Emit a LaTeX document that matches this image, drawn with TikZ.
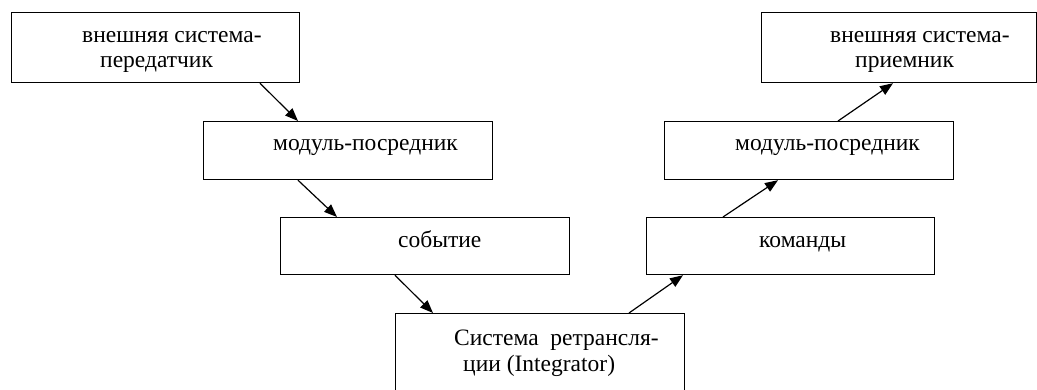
\documentclass[tikz,border=0pt]{standalone}
\usepackage{fontspec}
\setmainfont{Liberation Serif}
\usetikzlibrary{arrows.meta}
\begin{document}
\begin{tikzpicture}[x=1pt,y=-1pt,
  box/.style={draw=black,line width=1.2pt,anchor=north west,inner sep=0pt,minimum width=#1},
  txt/.style={anchor=mid west,inner sep=0pt,yshift=-3pt,font=\fontsize{23.5}{28}\selectfont},
  arr/.style={draw=black,line width=1.2pt,-{Triangle[length=13pt,width=10pt]}}]
\fill[white] (0,0) rectangle (1037,389);
\clip (0,0) rectangle (1037,389);
\node[box=288pt,minimum height=70pt] (b1) at (11,12) {};
\node[box=275pt,minimum height=70pt] (b2) at (761,12) {};
\node[box=289pt,minimum height=58pt] (b3) at (203,121) {};
\node[box=289pt,minimum height=57pt] (b4) at (280,217) {};
\node[box=289pt,minimum height=100pt] (b5) at (395,313) {};
\node[box=288pt,minimum height=57pt] (b6) at (646,217) {};
\node[box=289pt,minimum height=58pt] (b7) at (664,121) {};
\node[txt] (t1a) at (82,37) {внешняя система-};
\node[txt] (t1b) at (100,62) {передатчик};
\node[txt] (t2a) at (830,37) {внешняя система-};
\node[txt] (t2b) at (855,62) {приемник};
\node[txt] (t3) at (273,145) {модуль-посредник};
\node[txt] (t4) at (398,242) {событие};
\node[txt] (t5a) at (454,340) {Система\ \ ретрансля-};
\node[txt] (t5b) at (463,366) {ции (Integrator)};
\node[txt] (t6) at (759,242) {команды};
\node[txt] (t7) at (735,145) {модуль-посредник};
\draw[arr] ([xshift=249pt]b1.south west) -- ([xshift=95pt]b3.north west);
\draw[arr] ([xshift=95pt]b3.south west) -- ([xshift=57pt]b4.north west);
\draw[arr] ([xshift=115pt]b4.south west) -- ([xshift=38pt]b5.north west);
\draw[arr] ([xshift=234pt]b5.north west) -- ([xshift=37pt]b6.south west);
\draw[arr] ([xshift=77pt]b6.north west) -- ([xshift=114pt]b7.south west);
\draw[arr] ([xshift=174pt]b7.north west) -- ([xshift=132pt]b2.south west);
\end{tikzpicture}
\end{document}
